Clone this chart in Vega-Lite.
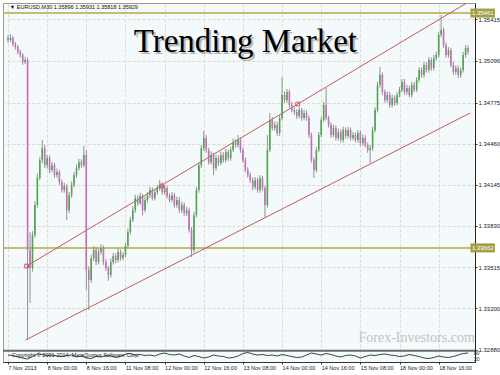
{
"$schema": "https://vega.github.io/schema/vega-lite/v6.json",
"background": "white",
"padding": {"left": 2, "top": 3, "right": 0, "bottom": 0},
"width": 472,
"height": 359,
"config": {
  "view": {"fill": "#f4f9fb", "stroke": "#9a9a9a", "strokeWidth": 1},
  "axis": {"labelFont": "Liberation Sans", "labelFontSize": 6, "labelColor": "#1a1a1a", "tickColor": "#333", "domainColor": "#333", "gridColor": "#d9d0c3", "gridDash": [3, 2], "gridWidth": 0.8},
  "text": {"font": "Liberation Sans"}
},
"datasets": {
  "levels": [{"level": 1.35461}, {"level": 1.33662}],
  "channel": [
    {"line": "upper", "i": 15.2, "p": 1.33523}, {"line": "upper", "i": 376, "p": 1.35544},
    {"line": "lower", "i": 14.4, "p": 1.32957}, {"line": "lower", "i": 377.6, "p": 1.34695}
  ],
  "anchors": [{"i": 15.2, "p": 1.33523}, {"i": 125.6, "p": 1.34136}, {"i": 236.8, "p": 1.34764}],
  "candles": [
{"i":0,"o":1.35270,"h":1.35293,"l":1.35232,"c":1.35255},
{"i":2,"o":1.35255,"h":1.35300,"l":1.35240,"c":1.35270},
{"i":4,"o":1.35270,"h":1.35285,"l":1.35205,"c":1.35224},
{"i":6,"o":1.35224,"h":1.35240,"l":1.35180,"c":1.35201},
{"i":8,"o":1.35201,"h":1.35215,"l":1.35145,"c":1.35163},
{"i":10,"o":1.35163,"h":1.35180,"l":1.35120,"c":1.35140},
{"i":12,"o":1.35140,"h":1.35155,"l":1.35065,"c":1.35086},
{"i":14,"o":1.35086,"h":1.35125,"l":1.35070,"c":1.35101},
{"i":16,"o":1.35101,"h":1.35117,"l":1.32957,"c":1.33646},
{"i":18,"o":1.33646,"h":1.33783,"l":1.33240,"c":1.33508},
{"i":20,"o":1.33508,"h":1.33790,"l":1.33480,"c":1.33761},
{"i":22,"o":1.33761,"h":1.34020,"l":1.33740,"c":1.33990},
{"i":24,"o":1.33990,"h":1.34230,"l":1.33970,"c":1.34197},
{"i":26,"o":1.34197,"h":1.34360,"l":1.34180,"c":1.34334},
{"i":28,"o":1.34334,"h":1.34489,"l":1.34310,"c":1.34426},
{"i":30,"o":1.34426,"h":1.34450,"l":1.34275,"c":1.34296},
{"i":32,"o":1.34296,"h":1.34375,"l":1.34270,"c":1.34350},
{"i":34,"o":1.34350,"h":1.34370,"l":1.34235,"c":1.34258},
{"i":36,"o":1.34258,"h":1.34320,"l":1.34240,"c":1.34296},
{"i":38,"o":1.34296,"h":1.34315,"l":1.34200,"c":1.34220},
{"i":40,"o":1.34220,"h":1.34270,"l":1.34200,"c":1.34243},
{"i":42,"o":1.34243,"h":1.34260,"l":1.34145,"c":1.34166},
{"i":44,"o":1.34166,"h":1.34185,"l":1.34085,"c":1.34105},
{"i":46,"o":1.34105,"h":1.34160,"l":1.34085,"c":1.34135},
{"i":48,"o":1.34135,"h":1.34150,"l":1.33876,"c":1.33951},
{"i":50,"o":1.33951,"h":1.34090,"l":1.33930,"c":1.34066},
{"i":52,"o":1.34066,"h":1.34170,"l":1.34045,"c":1.34144},
{"i":54,"o":1.34144,"h":1.34245,"l":1.34125,"c":1.34220},
{"i":56,"o":1.34220,"h":1.34300,"l":1.34200,"c":1.34273},
{"i":58,"o":1.34273,"h":1.34345,"l":1.34255,"c":1.34319},
{"i":60,"o":1.34319,"h":1.34340,"l":1.34275,"c":1.34296},
{"i":62,"o":1.34296,"h":1.34443,"l":1.34280,"c":1.34373},
{"i":64,"o":1.34373,"h":1.34412,"l":1.33340,"c":1.33493},
{"i":66,"o":1.33493,"h":1.33520,"l":1.33186,"c":1.33416},
{"i":68,"o":1.33416,"h":1.33610,"l":1.33395,"c":1.33584},
{"i":70,"o":1.33584,"h":1.33675,"l":1.33560,"c":1.33646},
{"i":72,"o":1.33646,"h":1.33670,"l":1.33530,"c":1.33554},
{"i":74,"o":1.33554,"h":1.33655,"l":1.33535,"c":1.33630},
{"i":76,"o":1.33630,"h":1.33690,"l":1.33610,"c":1.33660},
{"i":78,"o":1.33660,"h":1.33680,"l":1.33530,"c":1.33554},
{"i":80,"o":1.33554,"h":1.33575,"l":1.33485,"c":1.33508},
{"i":82,"o":1.33508,"h":1.33525,"l":1.33409,"c":1.33455},
{"i":84,"o":1.33455,"h":1.33580,"l":1.33435,"c":1.33554},
{"i":86,"o":1.33554,"h":1.33625,"l":1.33535,"c":1.33599},
{"i":88,"o":1.33599,"h":1.33620,"l":1.33545,"c":1.33569},
{"i":90,"o":1.33569,"h":1.33655,"l":1.33550,"c":1.33630},
{"i":92,"o":1.33630,"h":1.33650,"l":1.33565,"c":1.33584},
{"i":94,"o":1.33584,"h":1.33630,"l":1.33565,"c":1.33608},
{"i":96,"o":1.33608,"h":1.33700,"l":1.33590,"c":1.33677},
{"i":98,"o":1.33677,"h":1.33810,"l":1.33660,"c":1.33783},
{"i":100,"o":1.33783,"h":1.33900,"l":1.33765,"c":1.33876},
{"i":102,"o":1.33876,"h":1.33980,"l":1.33860,"c":1.33951},
{"i":104,"o":1.33951,"h":1.34070,"l":1.33930,"c":1.34043},
{"i":106,"o":1.34043,"h":1.34065,"l":1.33985,"c":1.34006},
{"i":108,"o":1.34006,"h":1.34085,"l":1.33990,"c":1.34059},
{"i":110,"o":1.34059,"h":1.34075,"l":1.33913,"c":1.33951},
{"i":112,"o":1.33951,"h":1.34055,"l":1.33935,"c":1.34029},
{"i":114,"o":1.34029,"h":1.34090,"l":1.34010,"c":1.34066},
{"i":116,"o":1.34066,"h":1.34130,"l":1.34045,"c":1.34105},
{"i":118,"o":1.34105,"h":1.34125,"l":1.34025,"c":1.34043},
{"i":120,"o":1.34043,"h":1.34115,"l":1.34025,"c":1.34089},
{"i":122,"o":1.34089,"h":1.34145,"l":1.34070,"c":1.34120},
{"i":124,"o":1.34120,"h":1.34181,"l":1.34100,"c":1.34144},
{"i":126,"o":1.34144,"h":1.34165,"l":1.34070,"c":1.34089},
{"i":128,"o":1.34089,"h":1.34145,"l":1.34070,"c":1.34120},
{"i":130,"o":1.34120,"h":1.34140,"l":1.34040,"c":1.34059},
{"i":132,"o":1.34059,"h":1.34080,"l":1.34010,"c":1.34029},
{"i":134,"o":1.34029,"h":1.34090,"l":1.34010,"c":1.34066},
{"i":136,"o":1.34066,"h":1.34085,"l":1.33970,"c":1.33990},
{"i":138,"o":1.33990,"h":1.34055,"l":1.33970,"c":1.34029},
{"i":140,"o":1.34029,"h":1.34050,"l":1.33930,"c":1.33951},
{"i":142,"o":1.33951,"h":1.34015,"l":1.33930,"c":1.33990},
{"i":144,"o":1.33990,"h":1.34010,"l":1.33905,"c":1.33928},
{"i":146,"o":1.33928,"h":1.33975,"l":1.33905,"c":1.33951},
{"i":148,"o":1.33951,"h":1.33970,"l":1.33780,"c":1.33799},
{"i":150,"o":1.33799,"h":1.33820,"l":1.33592,"c":1.33646},
{"i":152,"o":1.33646,"h":1.33940,"l":1.33625,"c":1.33913},
{"i":154,"o":1.33913,"h":1.34130,"l":1.33895,"c":1.34105},
{"i":156,"o":1.34105,"h":1.34320,"l":1.34085,"c":1.34296},
{"i":158,"o":1.34296,"h":1.34450,"l":1.34275,"c":1.34426},
{"i":160,"o":1.34426,"h":1.34558,"l":1.34405,"c":1.34504},
{"i":162,"o":1.34504,"h":1.34525,"l":1.34390,"c":1.34412},
{"i":164,"o":1.34412,"h":1.34430,"l":1.34300,"c":1.34319},
{"i":166,"o":1.34319,"h":1.34400,"l":1.34300,"c":1.34373},
{"i":168,"o":1.34373,"h":1.34390,"l":1.34220,"c":1.34273},
{"i":170,"o":1.34273,"h":1.34375,"l":1.34255,"c":1.34350},
{"i":172,"o":1.34350,"h":1.34370,"l":1.34290,"c":1.34311},
{"i":174,"o":1.34311,"h":1.34400,"l":1.34295,"c":1.34373},
{"i":176,"o":1.34373,"h":1.34395,"l":1.34315,"c":1.34334},
{"i":178,"o":1.34334,"h":1.34420,"l":1.34315,"c":1.34396},
{"i":180,"o":1.34396,"h":1.34415,"l":1.34330,"c":1.34350},
{"i":182,"o":1.34350,"h":1.34435,"l":1.34330,"c":1.34412},
{"i":184,"o":1.34412,"h":1.34500,"l":1.34395,"c":1.34473},
{"i":186,"o":1.34473,"h":1.34495,"l":1.34430,"c":1.34449},
{"i":188,"o":1.34449,"h":1.34527,"l":1.34430,"c":1.34489},
{"i":190,"o":1.34489,"h":1.34510,"l":1.34390,"c":1.34412},
{"i":192,"o":1.34412,"h":1.34430,"l":1.34315,"c":1.34334},
{"i":194,"o":1.34334,"h":1.34355,"l":1.34240,"c":1.34258},
{"i":196,"o":1.34258,"h":1.34280,"l":1.34200,"c":1.34220},
{"i":198,"o":1.34220,"h":1.34240,"l":1.34160,"c":1.34181},
{"i":200,"o":1.34181,"h":1.34200,"l":1.34105,"c":1.34128},
{"i":202,"o":1.34128,"h":1.34205,"l":1.34110,"c":1.34181},
{"i":204,"o":1.34181,"h":1.34200,"l":1.34085,"c":1.34105},
{"i":206,"o":1.34105,"h":1.34220,"l":1.34085,"c":1.34197},
{"i":208,"o":1.34197,"h":1.34215,"l":1.34100,"c":1.34120},
{"i":210,"o":1.34120,"h":1.34140,"l":1.33898,"c":1.33990},
{"i":212,"o":1.33990,"h":1.34527,"l":1.33970,"c":1.34412},
{"i":214,"o":1.34412,"h":1.34695,"l":1.34395,"c":1.34642},
{"i":216,"o":1.34642,"h":1.34665,"l":1.34560,"c":1.34580},
{"i":218,"o":1.34580,"h":1.34630,"l":1.34560,"c":1.34604},
{"i":220,"o":1.34604,"h":1.34625,"l":1.34520,"c":1.34541},
{"i":222,"o":1.34541,"h":1.34680,"l":1.34520,"c":1.34657},
{"i":224,"o":1.34657,"h":1.34971,"l":1.34640,"c":1.34833},
{"i":226,"o":1.34833,"h":1.34860,"l":1.34775,"c":1.34795},
{"i":228,"o":1.34795,"h":1.34880,"l":1.34775,"c":1.34856},
{"i":230,"o":1.34856,"h":1.34875,"l":1.34735,"c":1.34757},
{"i":232,"o":1.34757,"h":1.34780,"l":1.34700,"c":1.34718},
{"i":234,"o":1.34718,"h":1.34740,"l":1.34680,"c":1.34703},
{"i":236,"o":1.34703,"h":1.34725,"l":1.34650,"c":1.34672},
{"i":238,"o":1.34672,"h":1.34740,"l":1.34655,"c":1.34718},
{"i":240,"o":1.34718,"h":1.34735,"l":1.34635,"c":1.34657},
{"i":242,"o":1.34657,"h":1.34720,"l":1.34640,"c":1.34695},
{"i":244,"o":1.34695,"h":1.34715,"l":1.34635,"c":1.34657},
{"i":246,"o":1.34657,"h":1.34675,"l":1.34505,"c":1.34527},
{"i":248,"o":1.34527,"h":1.34545,"l":1.34315,"c":1.34334},
{"i":250,"o":1.34334,"h":1.34355,"l":1.34197,"c":1.34258},
{"i":252,"o":1.34258,"h":1.34435,"l":1.34240,"c":1.34412},
{"i":254,"o":1.34412,"h":1.34550,"l":1.34395,"c":1.34527},
{"i":256,"o":1.34527,"h":1.34665,"l":1.34510,"c":1.34642},
{"i":258,"o":1.34642,"h":1.34780,"l":1.34625,"c":1.34757},
{"i":260,"o":1.34757,"h":1.34887,"l":1.34640,"c":1.34657},
{"i":262,"o":1.34657,"h":1.34675,"l":1.34585,"c":1.34604},
{"i":264,"o":1.34604,"h":1.34625,"l":1.34505,"c":1.34527},
{"i":266,"o":1.34527,"h":1.34605,"l":1.34510,"c":1.34580},
{"i":268,"o":1.34580,"h":1.34600,"l":1.34485,"c":1.34504},
{"i":270,"o":1.34504,"h":1.34575,"l":1.34485,"c":1.34550},
{"i":272,"o":1.34550,"h":1.34570,"l":1.34470,"c":1.34489},
{"i":274,"o":1.34489,"h":1.34590,"l":1.34470,"c":1.34565},
{"i":276,"o":1.34565,"h":1.34585,"l":1.34500,"c":1.34519},
{"i":278,"o":1.34519,"h":1.34590,"l":1.34500,"c":1.34565},
{"i":280,"o":1.34565,"h":1.34585,"l":1.34485,"c":1.34504},
{"i":282,"o":1.34504,"h":1.34550,"l":1.34485,"c":1.34527},
{"i":284,"o":1.34527,"h":1.34545,"l":1.34470,"c":1.34489},
{"i":286,"o":1.34489,"h":1.34565,"l":1.34470,"c":1.34541},
{"i":288,"o":1.34541,"h":1.34560,"l":1.34445,"c":1.34465},
{"i":290,"o":1.34465,"h":1.34530,"l":1.34445,"c":1.34504},
{"i":292,"o":1.34504,"h":1.34525,"l":1.34430,"c":1.34449},
{"i":294,"o":1.34449,"h":1.34470,"l":1.34390,"c":1.34412},
{"i":296,"o":1.34412,"h":1.34450,"l":1.34311,"c":1.34426},
{"i":298,"o":1.34426,"h":1.34590,"l":1.34405,"c":1.34565},
{"i":300,"o":1.34565,"h":1.34740,"l":1.34545,"c":1.34718},
{"i":302,"o":1.34718,"h":1.34935,"l":1.34700,"c":1.34910},
{"i":304,"o":1.34910,"h":1.35047,"l":1.34890,"c":1.34987},
{"i":306,"o":1.34987,"h":1.35005,"l":1.34835,"c":1.34856},
{"i":308,"o":1.34856,"h":1.34875,"l":1.34775,"c":1.34795},
{"i":310,"o":1.34795,"h":1.34860,"l":1.34775,"c":1.34833},
{"i":312,"o":1.34833,"h":1.34855,"l":1.34735,"c":1.34757},
{"i":314,"o":1.34757,"h":1.34835,"l":1.34740,"c":1.34810},
{"i":316,"o":1.34810,"h":1.34830,"l":1.34750,"c":1.34772},
{"i":318,"o":1.34772,"h":1.34855,"l":1.34755,"c":1.34833},
{"i":320,"o":1.34833,"h":1.34895,"l":1.34815,"c":1.34872},
{"i":322,"o":1.34872,"h":1.34955,"l":1.34855,"c":1.34933},
{"i":324,"o":1.34933,"h":1.34955,"l":1.34835,"c":1.34856},
{"i":326,"o":1.34856,"h":1.34910,"l":1.34835,"c":1.34887},
{"i":328,"o":1.34887,"h":1.34905,"l":1.34815,"c":1.34833},
{"i":330,"o":1.34833,"h":1.34935,"l":1.34815,"c":1.34910},
{"i":332,"o":1.34910,"h":1.34930,"l":1.34855,"c":1.34872},
{"i":334,"o":1.34872,"h":1.34970,"l":1.34855,"c":1.34948},
{"i":336,"o":1.34948,"h":1.35045,"l":1.34930,"c":1.35024},
{"i":338,"o":1.35024,"h":1.35045,"l":1.34965,"c":1.34987},
{"i":340,"o":1.34987,"h":1.35085,"l":1.34965,"c":1.35063},
{"i":342,"o":1.35063,"h":1.35085,"l":1.35005,"c":1.35024},
{"i":344,"o":1.35024,"h":1.35125,"l":1.35005,"c":1.35101},
{"i":346,"o":1.35101,"h":1.35120,"l":1.35020,"c":1.35039},
{"i":348,"o":1.35039,"h":1.35140,"l":1.35020,"c":1.35117},
{"i":350,"o":1.35117,"h":1.35165,"l":1.35095,"c":1.35140},
{"i":352,"o":1.35140,"h":1.35315,"l":1.35120,"c":1.35293},
{"i":354,"o":1.35293,"h":1.35446,"l":1.35275,"c":1.35331},
{"i":356,"o":1.35331,"h":1.35350,"l":1.35195,"c":1.35216},
{"i":358,"o":1.35216,"h":1.35235,"l":1.35120,"c":1.35140},
{"i":360,"o":1.35140,"h":1.35200,"l":1.35120,"c":1.35178},
{"i":362,"o":1.35178,"h":1.35195,"l":1.35045,"c":1.35063},
{"i":364,"o":1.35063,"h":1.35085,"l":1.34990,"c":1.35009},
{"i":366,"o":1.35009,"h":1.35060,"l":1.34990,"c":1.35039},
{"i":368,"o":1.35039,"h":1.35060,"l":1.34965,"c":1.34987},
{"i":370,"o":1.34987,"h":1.35045,"l":1.34965,"c":1.35024},
{"i":372,"o":1.35024,"h":1.35165,"l":1.35005,"c":1.35140},
{"i":374,"o":1.35140,"h":1.35215,"l":1.35120,"c":1.35193},
{"i":376,"o":1.35193,"h":1.35215,"l":1.35145,"c":1.35163}
  ],
  "osc": [
{"i":0,"v":60},{"i":4,"v":55},{"i":8,"v":40},{"i":12,"v":30},{"i":16,"v":20},{"i":20,"v":45},{"i":24,"v":70},{"i":28,"v":65},{"i":32,"v":55},{"i":36,"v":60},{"i":40,"v":50},{"i":44,"v":45},{"i":48,"v":55},{"i":52,"v":60},{"i":56,"v":40},{"i":60,"v":50},{"i":64,"v":30},{"i":68,"v":25},{"i":72,"v":45},{"i":76,"v":40},{"i":80,"v":55},{"i":84,"v":50},{"i":88,"v":35},{"i":92,"v":45},{"i":96,"v":70},{"i":100,"v":75},{"i":104,"v":60},{"i":108,"v":65},{"i":112,"v":55},{"i":116,"v":60},{"i":120,"v":50},{"i":124,"v":70},{"i":128,"v":80},{"i":132,"v":65},{"i":136,"v":60},{"i":140,"v":70},{"i":144,"v":50},{"i":148,"v":35},{"i":152,"v":55},{"i":156,"v":45},{"i":160,"v":30},{"i":164,"v":40},{"i":168,"v":60},{"i":172,"v":50},{"i":176,"v":45},{"i":180,"v":30},{"i":184,"v":35},{"i":188,"v":50},{"i":192,"v":75},{"i":196,"v":85},{"i":200,"v":70},{"i":204,"v":60},{"i":208,"v":65},{"i":212,"v":55},{"i":216,"v":60},{"i":220,"v":50},{"i":224,"v":65},{"i":228,"v":55},{"i":232,"v":45},{"i":236,"v":35},{"i":240,"v":40},{"i":244,"v":60},{"i":248,"v":80},{"i":252,"v":70},{"i":256,"v":60},{"i":260,"v":75},{"i":264,"v":65},{"i":268,"v":50},{"i":272,"v":40},{"i":276,"v":55},{"i":280,"v":60},{"i":284,"v":50},{"i":288,"v":30},{"i":292,"v":45},{"i":296,"v":60},{"i":300,"v":55},{"i":304,"v":65},{"i":308,"v":70},{"i":312,"v":60},{"i":316,"v":55},{"i":320,"v":45},{"i":324,"v":50},{"i":328,"v":65},{"i":332,"v":55},{"i":336,"v":45},{"i":340,"v":30},{"i":344,"v":25},{"i":348,"v":35},{"i":352,"v":50},{"i":356,"v":40},{"i":360,"v":35},{"i":364,"v":45},{"i":368,"v":60},{"i":372,"v":75},{"i":376,"v":80}
  ]
},
"resolve": {"scale": {"y": "independent"}, "axis": {"x": "independent", "y": "independent"}},
"layer": [
  {
    "layer": [
      {
        "data": {"name": "levels"},
        "mark": {"type": "rule", "color": "#c4bf6c", "strokeWidth": 2},
        "encoding": {
          "y": {"field": "level", "type": "quantitative",
            "scale": {"domain": [1.32788, 1.35538], "nice": false, "zero": false},
            "axis": {"orient": "right", "title": null,
              "values": [1.3288, 1.3304, 1.332, 1.33355, 1.33515, 1.33675, 1.3383, 1.33985, 1.34145, 1.34305, 1.3446, 1.3462, 1.34775, 1.34935, 1.35096, 1.35255, 1.35415],
              "format": ".5f", "labelExpr": "datum.value == 1.33675 ? '' : datum.label",
              "tickSize": 2, "labelPadding": 1, "grid": true, "labelBound": false, "labelFlush": false, "labelOverlap": false, "domainColor": "#222"}}
        }
      },
      {
        "data": {"name": "channel"},
        "mark": {"type": "line", "color": "#c45a5e", "strokeWidth": 1, "clip": true},
        "encoding": {
          "x": {"field": "i", "type": "quantitative", "scale": {"domain": [0, 377.6], "nice": false, "zero": false},
            "axis": {"orient": "top", "title": null, "values": [0,16,32,48,64,80,96,112,128,144,160,176,192,208,224,240,256,272,288,304,320,336,352,368], "labels": false, "ticks": false, "domain": false, "grid": true}},
          "y": {"field": "p", "type": "quantitative", "scale": {"domain": [1.32788, 1.35538], "nice": false, "zero": false}},
          "detail": {"field": "line"}
        }
      },
      {
        "data": {"name": "candles"},
        "mark": {"type": "rule", "strokeWidth": 1, "color": "#909090"},
        "encoding": {
          "x": {"field": "i", "type": "quantitative", "scale": {"domain": [0, 377.6], "nice": false, "zero": false}},
          "y": {"field": "l", "type": "quantitative", "scale": {"domain": [1.32788, 1.35538], "nice": false, "zero": false}},
          "y2": {"field": "h"}
        }
      },
      {
        "data": {"name": "candles"},
        "mark": {"type": "bar", "width": 1.6},
        "encoding": {
          "x": {"field": "i", "type": "quantitative", "scale": {"domain": [0, 377.6], "nice": false, "zero": false}},
          "y": {"field": "o", "type": "quantitative", "scale": {"domain": [1.32788, 1.35538], "nice": false, "zero": false}},
          "y2": {"field": "c"},
          "color": {"condition": {"test": "datum.c >= datum.o", "value": "#4fa64f"}, "value": "#c86cbc"}
        }
      },
      {
        "data": {"name": "anchors"},
        "mark": {"type": "point", "shape": "square", "filled": false, "size": 14, "color": "#c45a5e", "strokeWidth": 1, "opacity": 1},
        "encoding": {
          "x": {"field": "i", "type": "quantitative", "scale": {"domain": [0, 377.6], "nice": false, "zero": false}},
          "y": {"field": "p", "type": "quantitative", "scale": {"domain": [1.32788, 1.35538], "nice": false, "zero": false}}
        }
      },
      {
        "data": {"values": [{"edge": "indicator window"}]},
        "mark": {"type": "rule", "color": "#6a6a6a", "strokeWidth": 2},
        "encoding": {"y": {"datum": 1.32875}}
      },
      {
        "data": {"name": "levels"},
        "mark": {"type": "rect", "color": "#a3a044", "height": 9},
        "encoding": {
          "x": {"datum": 378},
          "x2": {"datum": 398},
          "y": {"field": "level", "type": "quantitative", "scale": {"domain": [1.32788, 1.35538], "nice": false, "zero": false}}
        }
      },
      {
        "data": {"name": "levels"},
        "mark": {"type": "text", "color": "white", "fontSize": 6, "align": "center", "baseline": "middle"},
        "encoding": {
          "x": {"datum": 388},
          "y": {"field": "level", "type": "quantitative", "scale": {"domain": [1.32788, 1.35538], "nice": false, "zero": false}},
          "text": {"field": "level", "type": "quantitative", "format": ".5f"}
        }
      },
      {
        "data": {"values": [{"label": "Trending Market"}]},
        "mark": {"type": "text", "font": "Liberation Serif", "fontSize": 33, "align": "center", "baseline": "alphabetic", "color": "#8a8a8a", "opacity": 0.6, "dx": 2, "dy": 2},
        "encoding": {"x": {"datum": 194}, "y": {"datum": 1.35163}, "text": {"field": "label"}}
      },
      {
        "data": {"values": [{"label": "Trending Market"}]},
        "mark": {"type": "text", "font": "Liberation Serif", "fontSize": 33, "align": "center", "baseline": "alphabetic", "color": "#000000"},
        "encoding": {"x": {"datum": 194}, "y": {"datum": 1.35163}, "text": {"field": "label"}}
      },
      {
        "data": {"values": [{"label": "Forex-Investors.com"}]},
        "mark": {"type": "text", "font": "Liberation Serif", "fontSize": 14, "align": "center", "baseline": "middle", "color": "#c2c2c2"},
        "encoding": {"x": {"datum": 334}, "y": {"datum": 1.32972}, "text": {"field": "label"}}
      },
      {
        "data": {"values": [{"label": "▼ EURUSD,M30  1.35896 1.35931 1.35818 1.35929"}]},
        "mark": {"type": "text", "fontSize": 5.5, "align": "left", "baseline": "middle", "color": "#111"},
        "encoding": {"x": {"datum": 1.5}, "y": {"datum": 1.35507}, "text": {"field": "label"}}
      }
    ]
  },
  {
    "layer": [
      {
        "data": {"name": "osc"},
        "mark": {"type": "line", "color": "#111", "strokeWidth": 0.8},
        "encoding": {
          "x": {"field": "i", "type": "quantitative", "scale": {"domain": [0, 377.6], "nice": false, "zero": false},
            "axis": {"orient": "bottom", "title": null, "values": [0,32,64,96,128,160,192,224,256,288,320,352],
              "labelExpr": "['7 Nov 2013','8 Nov 00:00','8 Nov 16:00','11 Nov 08:00','12 Nov 00:00','12 Nov 16:00','13 Nov 08:00','14 Nov 00:00','14 Nov 16:00','15 Nov 08:00','18 Nov 00:00','18 Nov 16:00'][round(datum.value/32)]",
              "labelAlign": "left", "labelFontSize": 5.5, "tickSize": 2, "labelPadding": 1, "grid": false, "labelOverlap": false, "labelBound": false, "labelFlush": false}},
          "y": {"field": "v", "type": "quantitative", "scale": {"domain": [-10, 3580], "nice": false, "zero": false}, "axis": null}
        }
      },
      {
        "data": {"values": [{"t": "Copyright © 2001-2014, MetaQuotes Software Corp."}]},
        "mark": {"type": "text", "align": "left", "baseline": "middle", "fontSize": 5.5, "color": "#222"},
        "encoding": {"x": {"datum": 3}, "y": {"datum": 65, "scale": {"domain": [-10, 3580], "nice": false, "zero": false}}, "text": {"field": "t"}}
      },
      {
        "data": {"values": [{"v": 80, "t": "80"}, {"v": 20, "t": "20"}]},
        "mark": {"type": "text", "align": "left", "baseline": "middle", "fontSize": 5, "color": "#222", "dx": 4},
        "encoding": {"x": {"datum": 377.6}, "y": {"field": "v", "type": "quantitative", "scale": {"domain": [-10, 3580], "nice": false, "zero": false}}, "text": {"field": "t"}}
      }
    ]
  }
]
}
